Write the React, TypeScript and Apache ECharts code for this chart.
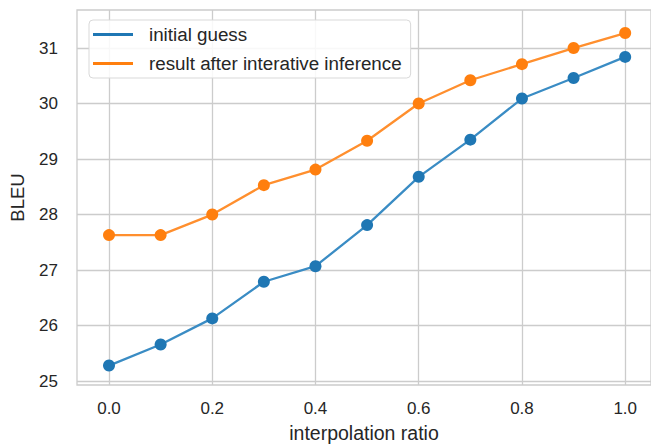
import React, { useEffect, useRef } from "react";
import * as echarts from "echarts";

const ratios = [0.0, 0.1, 0.2, 0.3, 0.4, 0.5, 0.6, 0.7, 0.8, 0.9, 1.0];
const initialGuess = [25.28, 25.66, 26.13, 26.79, 27.07, 27.81, 28.68, 29.35, 30.09, 30.46, 30.84];
const afterInference = [27.63, 27.63, 28.0, 28.53, 28.81, 29.33, 30.0, 30.42, 30.71, 31.0, 31.27];
const xTicks = [0.0, 0.2, 0.4, 0.6, 0.8, 1.0];
const yTicks = [25, 26, 27, 28, 29, 30, 31];
const seriesNames = ["initial guess", "result after interative inference"];

const FONT = "Liberation Sans, Arial, sans-serif";
const TEXT = "#262626";
const GRID = "#cccccc";

export default function App() {
  const ref = useRef<HTMLDivElement>(null);
  useEffect(() => {
    document.body.style.margin = "0";
    if (!ref.current) return;
    const chart = echarts.init(ref.current, undefined, { renderer: "svg" });
    chart.setOption({
      animation: false,
      backgroundColor: "#ffffff",
      textStyle: { fontFamily: FONT },
      grid: {
        left: 77,
        top: 10,
        width: 580,
        height: 378,
        show: true,
        borderColor: GRID,
        borderWidth: 1.3,
        backgroundColor: "#ffffff",
      },
      legend: {
        orient: "vertical",
        left: 89,
        top: 20,
        padding: [4, 9, 4, 4],
        itemGap: 8,
        itemWidth: 40,
        itemHeight: 3,
        icon: "rect",
        backgroundColor: "rgba(255,255,255,0.85)",
        borderColor: "#d9d9d9",
        borderWidth: 1,
        borderRadius: 4,
        textStyle: {
          fontFamily: FONT,
          fontSize: 18.8,
          color: TEXT,
          padding: [0, 0, 0, 11],
          lineHeight: 21,
        },
        data: seriesNames,
      },
      xAxis: {
        type: "value",
        min: -0.062,
        max: 1.05,
        name: "interpolation ratio",
        nameLocation: "middle",
        nameGap: 38,
        nameTextStyle: { fontFamily: FONT, fontSize: 19.5, color: TEXT },
        axisLine: { show: false },
        axisTick: { show: false, customValues: xTicks },
        axisLabel: {
          customValues: xTicks,
          formatter: (v: number) => v.toFixed(1),
          fontFamily: FONT,
          fontSize: 17,
          color: TEXT,
          margin: 15,
        },
        splitLine: { show: true, lineStyle: { color: GRID, width: 1.3 } },
      },
      yAxis: {
        type: "value",
        min: 24.93,
        max: 31.685,
        name: "BLEU",
        nameLocation: "middle",
        nameGap: 50,
        nameTextStyle: { fontFamily: FONT, fontSize: 18.5, color: TEXT },
        axisLine: { show: false },
        axisTick: { show: false, customValues: yTicks },
        axisLabel: {
          customValues: yTicks,
          formatter: (v: number) => String(Math.round(v)),
          fontFamily: FONT,
          fontSize: 17,
          color: TEXT,
          margin: 19,
        },
        splitLine: { show: true, lineStyle: { color: GRID, width: 1.3 } },
      },
      series: [
        {
          name: seriesNames[0],
          type: "line",
          data: ratios.map((x, i) => [x, initialGuess[i]]),
          symbol: "circle",
          symbolSize: 12,
          lineStyle: { color: "#3a8cc4", width: 2.3 },
          itemStyle: { color: "#1f77b4" },
          color: "#1f77b4",
        },
        {
          name: seriesNames[1],
          type: "line",
          data: ratios.map((x, i) => [x, afterInference[i]]),
          symbol: "circle",
          symbolSize: 12,
          lineStyle: { color: "#ff8f2e", width: 2.3 },
          itemStyle: { color: "#ff7f0e" },
          color: "#ff7f0e",
        },
      ],
    });
    return () => chart.dispose();
  }, []);
  return <div ref={ref} style={{ width: 651, height: 448 }} />;
}
